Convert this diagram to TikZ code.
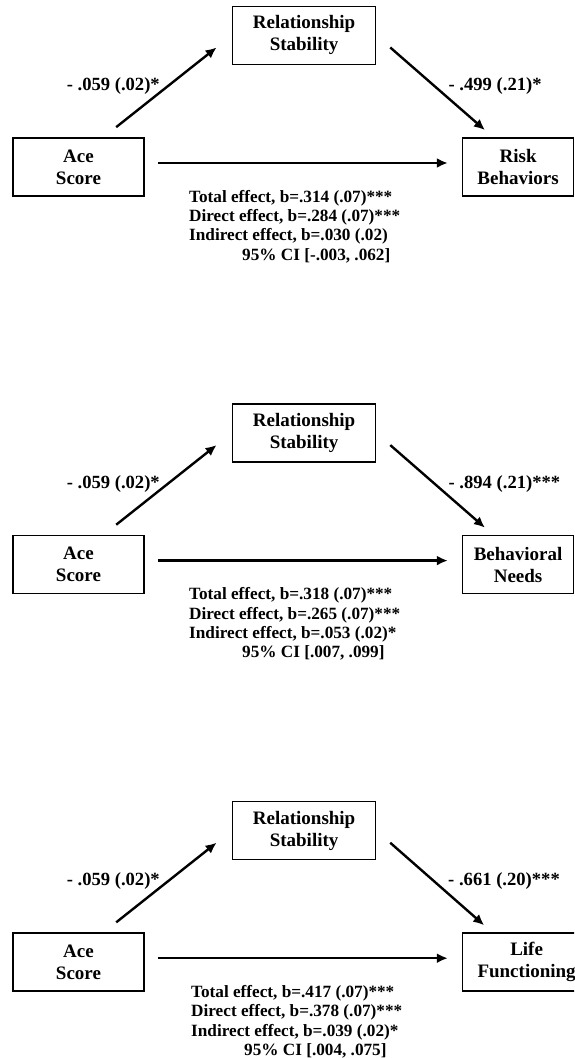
\documentclass[tikz,border=0pt]{standalone}
\usepackage{fontspec}
\setmainfont{Liberation Serif}
\usetikzlibrary{positioning,arrows.meta}

\begin{document}
\begin{tikzpicture}[>={Latex[length=5.5pt,width=5pt]},node distance=36pt and 43.5pt,
  varbox/.style={draw,line width=0.8pt,minimum width=65.5pt,minimum height=29pt,align=center,font=\fontsize{9.5}{11}\bfseries\selectfont},
  coef/.style={font=\fontsize{9.3}{11}\bfseries\selectfont},
  fx/.style={align=left,inner sep=0pt,font=\fontsize{8.6}{9.65}\bfseries\selectfont},
  link/.style={->,line width=1.2pt}]
\path[use as bounding box,clip] (-39.25pt,83.5pt) rectangle (247.75pt,-445.5pt);

\node[varbox] (ace1) at (0,0) {Ace\\Score};
\node[varbox,minimum width=71.5pt] (rs1) [above right=of ace1] {Relationship\\Stability};
\node[varbox,minimum width=55.5pt] (risk1) [right=158.5pt of ace1] {Risk\\Behaviors};
\node[fx] (fx1) [below right=-3.5pt and 22pt of ace1] {Total effect, b=.314 (.07)***\\Direct effect, b=.284 (.07)***\\Indirect effect, b=.030 (.02)\\\hspace*{26.5pt}95\% CI [-.003, .062]};
\path[link]
(ace1.50) edge[shorten <=8.1pt,shorten >=9.7pt] node[coef,left] {- .059 (.02)*} (rs1.west)
(rs1.east) edge[shorten <=9.2pt,shorten >=5.4pt] node[coef,right=3pt] {- .499 (.21)*} (risk1.130)
([yshift=2pt]ace1.east) edge[shorten <=6.5pt,shorten >=7pt] ([yshift=2pt]risk1.west);

\node[varbox] (ace2) [below=169pt of ace1] {Ace\\Score};
\node[varbox,minimum width=71.5pt] (rs2) [above right=of ace2] {Relationship\\Stability};
\node[varbox,minimum width=55.5pt] (needs2) [right=158.5pt of ace2] {Behavioral\\Needs};
\node[fx] (fx2) [below right=-3.5pt and 22pt of ace2] {Total effect, b=.318 (.07)***\\Direct effect, b=.265 (.07)***\\Indirect effect, b=.053 (.02)*\\\hspace*{26.5pt}95\% CI [.007, .099]};
\path[link]
(ace2.50) edge[shorten <=8.1pt,shorten >=9.7pt] node[coef,left] {- .059 (.02)*} (rs2.west)
(rs2.east) edge[shorten <=9.2pt,shorten >=5.4pt] node[coef,right=3pt] {- .894 (.21)***} (needs2.130)
([yshift=2pt]ace2.east) edge[shorten <=6.5pt,shorten >=7pt] ([yshift=2pt]needs2.west);

\node[varbox] (ace3) [below=169pt of ace2] {Ace\\Score};
\node[varbox,minimum width=71.5pt] (rs3) [above right=of ace3] {Relationship\\Stability};
\node[varbox,minimum width=64pt] (life3) [right=158.5pt of ace3] {Life\\Functioning};
\node[fx] (fx3) [below right=-3.5pt and 23pt of ace3] {Total effect, b=.417 (.07)***\\Direct effect, b=.378 (.07)***\\Indirect effect, b=.039 (.02)*\\\hspace*{26.5pt}95\% CI [.004, .075]};
\path[link]
(ace3.50) edge[shorten <=8.1pt,shorten >=9.7pt] node[coef,left] {- .059 (.02)*} (rs3.west)
(rs3.east) edge[shorten <=9.2pt,shorten >=5.4pt] node[coef,right=3pt] {- .661 (.20)***} (life3.139)
([yshift=2pt]ace3.east) edge[shorten <=6.5pt,shorten >=7pt] ([yshift=2pt]life3.west);
\end{tikzpicture}
\end{document}
